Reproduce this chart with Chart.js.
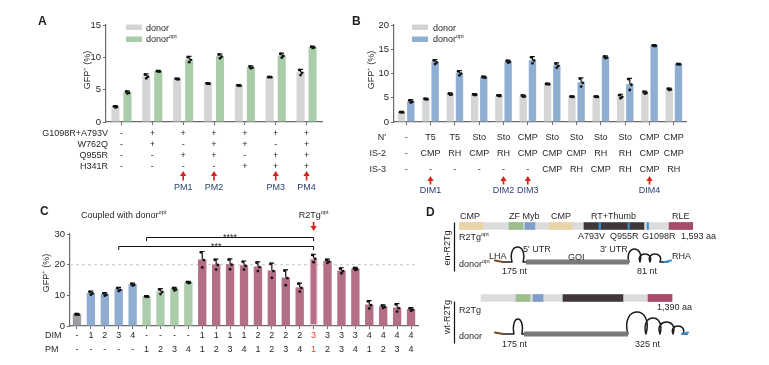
<!DOCTYPE html>
<html><head><meta charset="utf-8">
<script src="https://cdn.jsdelivr.net/npm/chart.js@4/dist/chart.umd.min.js"></script>
<style>
html,body{margin:0;padding:0;background:#fff;width:769px;height:365px;overflow:hidden;position:relative;}
canvas{position:absolute;}
</style></head><body>
<canvas id="cA" width="380" height="200" style="left:0;top:0"></canvas>
<canvas id="cB" width="429" height="200" style="left:340px;top:0"></canvas>
<canvas id="cC" width="425" height="170" style="left:0;top:195px"></canvas>
<canvas id="cD" width="349" height="170" style="left:420px;top:195px"></canvas>
<script>
// ================= DATA =================
// Panel A
const aCategories = ['WT','GA+W','PM1','PM2','GA+W+H','PM3','PM4'];
const aRowTitles = ['G1098R+A793V','W762Q','Q955R','H341R'];
const aRowGA = ['-','+','+','+','+','+','+'];
const aRowW  = ['-','+','-','+','+','-','+'];
const aRowQ  = ['-','-','+','+','-','+','+'];
const aRowH  = ['-','-','-','-','+','+','+'];
const aPmIndex = [2,3,5,6];
const aPmLabels = ['PM1','PM2','PM3','PM4'];
const aDonor    = [2.4, 7.1, 6.7, 6.0, 5.7, 7.0, 7.7];
const aDonorErr = [0.15, 0.35, 0.1, 0.1, 0.1, 0.05, 0.45];
const aOpt      = [4.6, 7.9, 9.7, 10.2, 8.5, 10.3, 11.6];
const aOptErr   = [0.2, 0.1, 0.45, 0.35, 0.2, 0.35, 0.15];
const aYMax = 15, aYStep = 5;

// Panel B
const bCategories = ['ctrl','T5/CMP','T5/RH','Sto/CMP','Sto/RH','CMP/CMP','Sto/CMP/CMP','Sto/CMP/RH','Sto/RH/CMP','Sto/RH/RH','CMP/CMP/CMP','CMP/CMP/RH'];
const bRowTitles = ["N'",'IS-2','IS-3'];
const bNterm = ['-','T5','T5','Sto','Sto','CMP','Sto','Sto','Sto','Sto','CMP','CMP'];
const bIS2   = ['-','CMP','RH','CMP','RH','CMP','CMP','CMP','RH','RH','CMP','CMP'];
const bIS3   = ['-','-','-','-','-','-','CMP','RH','CMP','RH','CMP','RH'];
const bDimIndex = [1,4,5,10];
const bDimLabels = ['DIM1','DIM2','DIM3','DIM4'];
const bDonor    = [2.1, 4.8, 5.8, 5.7, 5.5, 5.4, 7.9, 5.3, 5.3, 5.3, 6.1, 6.8];
const bDonorErr = [0.1, 0.15, 0.2, 0.15, 0.15, 0.2, 0.1, 0.1, 0.1, 0.4, 0.25, 0.2];
const bOpt      = [4.3, 12.4, 10.1, 9.3, 12.5, 12.8, 11.7, 8.2, 13.4, 7.8, 15.8, 12.0];
const bOptErr   = [0.3, 0.45, 0.5, 0.15, 0.25, 0.7, 0.5, 0.9, 0.25, 1.2, 0.15, 0.1];
const bYMax = 20, bYStep = 5;

// Panel C
const cDim = ['-','1','2','3','4','-','-','-','-','1','1','1','1','2','2','2','2','3','3','3','3','4','4','4','4'];
const cPm  = ['-','-','-','-','-','1','2','3','4','1','2','3','4','1','2','3','4','1','2','3','4','1','2','3','4'];
const cValues = [3.9, 10.8, 10.4, 12.0, 13.6, 9.7, 11.3, 12.1, 14.3, 21.7, 20.1, 20.2, 19.8, 19.4, 18.1, 15.8, 12.6, 22.1, 21.2, 18.1, 18.7, 7.0, 6.4, 6.0, 5.5];
const cErr    = [0.2, 0.6, 0.5, 0.6, 0.4, 0.2, 0.9, 0.5, 0.3, 2.6, 1.7, 1.7, 1.4, 1.5, 2.4, 2.5, 1.4, 1.3, 0.6, 0.9, 0.4, 1.3, 0.5, 1.3, 0.5];
const cHighlight = 17;
const cRefLine = 20;
const cBracketFrom = [3, 5];
const cBracketTo   = [17, 17];
const cBracketY    = [26, 29];
const cBracketText = ['***', '****'];
const cYMax = 30, cYStep = 10;

// Panel D (schematic positions in aa units)
const enLength = 1593;
const wtSpan = [150, 1450];
const domainColors = {cmp:'#e9d4a6', zf:'#9dbd8d', myb:'#7f9fcb', rt:'#3f3738', rle:'#a74a6c', mut:'#3a8fd3', bg:'#dcdcde'};
const enCmp = [[0,163],[613,769]];
const enZf = [340,436], wtZf = [388,483];
const enMyb = [449,517], wtMyb = [504,572];
const enRt = [851,1259], wtRt = [708,1116];
const enRle = [1430,1593], wtRle = [1287,1450];
const enMut = [[953,964],[1150,1160],[1280,1290]];
const enDonor = {lha:[245,300], hp:[361,436,15], goi:[456,1157], loops:[[1157,1232,13],[1232,1300,8],[1300,1368,8]], tail:1423, rha:[1402,1443]};
const wtDonor = {lha:[245,300], hp:[374,428,15], goi:[442,1150], loops:[[1150,1273,22],[1273,1368,16],[1368,1457,12],[1457,1525,8]], tail:1552, rha:[1518,1559]};

// ================= STYLE / HELPERS =================
const TXT = '#231f20', NAVY = '#2b3f6e', RED = '#d3261d', AX = '#6a6a6a';
const FAM = '"Liberation Sans", Arial, Helvetica, sans-serif';
const C_GREY = '#d5d5d7', C_GREEN = '#a9cda9', C_BLUE = '#8eafd2';
function fnt(size, bold){ return (bold ? 'bold ' : '') + size + 'px ' + FAM; }
function drawRich(ctx, it){
  const size = it.size || 9;
  const segs = typeof it.t === 'string' ? [{t: it.t}] : it.t;
  ctx.save();
  ctx.translate(it.x, it.y);
  if (it.rot) ctx.rotate(it.rot);
  let w = 0;
  segs.forEach(s => { ctx.font = fnt(s.sup ? size*0.62 : size, it.bold); w += ctx.measureText(s.t).width; });
  let x = it.align === 'right' ? -w : it.align === 'center' ? -w/2 : 0;
  ctx.textAlign = 'left'; ctx.textBaseline = 'alphabetic';
  const base = size*0.36;
  segs.forEach(s => {
    const sz = s.sup ? size*0.62 : size;
    ctx.font = fnt(sz, it.bold);
    ctx.fillStyle = s.color || it.color || TXT;
    ctx.fillText(s.t, x, s.sup ? base - size*0.42 : base);
    x += ctx.measureText(s.t).width;
  });
  ctx.restore();
}
function arrow(ctx, x, tip, tail, color){
  const dir = tail > tip ? 1 : -1;
  ctx.save(); ctx.strokeStyle = color; ctx.fillStyle = color; ctx.lineWidth = 1.7;
  ctx.beginPath(); ctx.moveTo(x, tail); ctx.lineTo(x, tip + dir*4); ctx.stroke();
  ctx.beginPath(); ctx.moveTo(x, tip); ctx.lineTo(x - 3.2, tip + dir*5); ctx.lineTo(x + 3.2, tip + dir*5); ctx.closePath(); ctx.fill();
  ctx.restore();
}
function rect(ctx, x, y, w, h, c){ ctx.fillStyle = c; ctx.fillRect(x, y, w, h); }
const GFP = [{t:'GFP'},{t:'+',sup:true},{t:' (%)'}];
const OPT = t => [{t:t},{t:'opt',sup:true}];

const errPlugin = {
  id: 'errbars',
  afterDatasetsDraw(chart){
    const ctx = chart.ctx, ys = chart.scales.y;
    chart.data.datasets.forEach((ds, di) => {
      if (!ds.errs) return;
      const meta = chart.getDatasetMeta(di);
      meta.data.forEach((bar, j) => {
        const v = ds.data[j], e = ds.errs[j];
        const x = bar.x;
        const yT = ys.getPixelForValue(v + e), yM = ys.getPixelForValue(v), yB = ys.getPixelForValue(Math.max(0, v - e));
        ctx.save(); ctx.strokeStyle = '#111'; ctx.fillStyle = '#111'; ctx.lineWidth = 1.2;
        ctx.beginPath(); ctx.moveTo(x, yM); ctx.lineTo(x, yT); ctx.moveTo(x - 2.3, yT); ctx.lineTo(x + 2.3, yT); ctx.stroke();
        [[x - 1.4, yT + 0.8], [x + 1.6, yM + 0.6], [x, yB]].forEach(p => { ctx.beginPath(); ctx.arc(p[0], p[1], 1.4, 0, Math.PI*2); ctx.fill(); });
        ctx.restore();
      });
    });
  }
};

function axes(yMax, yStep, yW, xH){
  return {
    x: { offset: true,
         grid: {display: true, drawOnChartArea: false, drawTicks: true, tickLength: 3, color: AX, offset: false},
         border: {display: true, color: AX, width: 1.3},
         ticks: {display: false},
         afterFit(s){ s.height = xH; } },
    y: { min: 0, max: yMax,
         grid: {display: true, drawOnChartArea: false, drawTicks: true, tickLength: 3, color: AX},
         border: {display: true, color: AX, width: 1.2},
         ticks: {stepSize: yStep, padding: 2, color: TXT, font: {family: FAM, size: 9.5}},
         afterFit(s){ s.width = yW; } }
  };
}
const basePlugins = {legend: {display: false}, tooltip: {enabled: false}};

// ================= PANEL A =================
new Chart(document.getElementById('cA'), {
  type: 'bar',
  data: { labels: aCategories, datasets: [
    {label: 'donor', data: aDonor, errs: aDonorErr, backgroundColor: C_GREY, categoryPercentage: 0.78, barPercentage: 0.67},
    {label: 'donor opt', data: aOpt, errs: aOptErr, backgroundColor: C_GREEN, categoryPercentage: 0.78, barPercentage: 0.67}
  ]},
  options: { responsive: false, animation: false, devicePixelRatio: 1,
    layout: {padding: {left: 0, right: 58, top: 25, bottom: 0}},
    scales: axes(aYMax, aYStep, 106, 78), plugins: basePlugins },
  plugins: [errPlugin, {
    id: 'decoA',
    afterDraw(chart){
      const ctx = chart.ctx, xs = chart.scales.x, b = chart.chartArea.bottom;
      drawRich(ctx, {t: 'A', x: 38, y: 21, size: 12, bold: true});
      rect(ctx, 126, 24.5, 16, 5.5, C_GREY); drawRich(ctx, {t: 'donor', x: 146, y: 27.3});
      rect(ctx, 126, 36.5, 16, 5.5, C_GREEN); drawRich(ctx, {t: OPT('donor'), x: 146, y: 39});
      drawRich(ctx, {t: GFP, x: 87, y: 70, rot: -Math.PI/2, align: 'center'});
      const rows = [aRowGA, aRowW, aRowQ, aRowH], dys = [11, 22, 33, 44];
      rows.forEach((r, k) => {
        drawRich(ctx, {t: aRowTitles[k], x: 108, y: b + dys[k], align: 'right'});
        r.forEach((v, i) => drawRich(ctx, {t: v, x: xs.getPixelForValue(i), y: b + dys[k], align: 'center'}));
      });
      aPmIndex.forEach((i, k) => {
        const x = xs.getPixelForValue(i);
        arrow(ctx, x, b + 49, b + 58.5, RED);
        drawRich(ctx, {t: aPmLabels[k], x: x, y: b + 65, align: 'center', color: NAVY});
      });
    }
  }]
});

// ================= PANEL B =================
new Chart(document.getElementById('cB'), {
  type: 'bar',
  data: { labels: bCategories, datasets: [
    {label: 'donor', data: bDonor, errs: bDonorErr, backgroundColor: C_GREY, categoryPercentage: 0.76, barPercentage: 0.8},
    {label: 'donor opt', data: bOpt, errs: bOptErr, backgroundColor: C_BLUE, categoryPercentage: 0.76, barPercentage: 0.8}
  ]},
  options: { responsive: false, animation: false, devicePixelRatio: 1,
    layout: {padding: {left: 0, right: 83, top: 25, bottom: 0}},
    scales: axes(bYMax, bYStep, 54, 78), plugins: basePlugins },
  plugins: [errPlugin, {
    id: 'decoB',
    afterDraw(chart){
      const ctx = chart.ctx, xs = chart.scales.x, b = chart.chartArea.bottom;
      drawRich(ctx, {t: 'B', x: 12, y: 21, size: 12, bold: true});
      rect(ctx, 72, 24.5, 16, 5.5, C_GREY); drawRich(ctx, {t: 'donor', x: 93, y: 27.3});
      rect(ctx, 72, 36.5, 16, 5.5, C_BLUE); drawRich(ctx, {t: OPT('donor'), x: 93, y: 39});
      drawRich(ctx, {t: GFP, x: 31, y: 70, rot: -Math.PI/2, align: 'center'});
      const rows = [bNterm, bIS2, bIS3], dys = [15, 31, 47];
      rows.forEach((r, k) => {
        drawRich(ctx, {t: bRowTitles[k], x: 46, y: b + dys[k], align: 'right'});
        r.forEach((v, i) => drawRich(ctx, {t: v, x: xs.getPixelForValue(i), y: b + dys[k], align: 'center'}));
      });
      bDimIndex.forEach((i, k) => {
        const x = xs.getPixelForValue(i);
        arrow(ctx, x, b + 54, b + 62.5, RED);
        drawRich(ctx, {t: bDimLabels[k], x: x, y: b + 68, align: 'center', color: NAVY});
      });
    }
  }]
});

// ================= PANEL C =================
const cColors = cDim.map((d, i) => d === '-' && cPm[i] === '-' ? '#9c9ca1' : cPm[i] === '-' ? '#8eadd1' : d === '-' ? '#abcdab' : '#b56e88');
new Chart(document.getElementById('cC'), {
  type: 'bar',
  data: { labels: cDim.map((d, i) => 'DIM' + d + '/PM' + cPm[i]), datasets: [
    {label: 'GFP+', data: cValues, errs: cErr, backgroundColor: cColors,
     borderColor: cValues.map((v, i) => i === cHighlight ? '#efc3d1' : 'rgba(0,0,0,0)'),
     borderWidth: cValues.map((v, i) => i === cHighlight ? 1.3 : 0), borderSkipped: false,
     categoryPercentage: 1, barPercentage: 0.6}
  ]},
  options: { responsive: false, animation: false, devicePixelRatio: 1,
    layout: {padding: {left: 0, right: 7, top: 39, bottom: 0}},
    scales: axes(cYMax, cYStep, 70, 39), plugins: basePlugins },
  plugins: [{
    id: 'refC',
    beforeDatasetsDraw(chart){
      const ctx = chart.ctx, ys = chart.scales.y, a = chart.chartArea;
      const y = ys.getPixelForValue(cRefLine);
      ctx.save(); ctx.strokeStyle = '#cfcfcf'; ctx.lineWidth = 1.2; ctx.setLineDash([3, 3]);
      ctx.beginPath(); ctx.moveTo(a.left, y); ctx.lineTo(a.right, y); ctx.stroke(); ctx.restore();
    }
  }, errPlugin, {
    id: 'decoC',
    afterDraw(chart){
      const ctx = chart.ctx, xs = chart.scales.x, ys = chart.scales.y, b = chart.chartArea.bottom;
      drawRich(ctx, {t: 'C', x: 40, y: 16, size: 12, bold: true});
      drawRich(ctx, {t: OPT('Coupled with donor'), x: 81, y: 20});
      drawRich(ctx, {t: GFP, x: 46, y: 78, rot: -Math.PI/2, align: 'center'});
      const rows = [cDim, cPm], titles = ['DIM', 'PM'], dys = [8.3, 22.3];
      rows.forEach((r, k) => {
        drawRich(ctx, {t: titles[k], x: 45, y: b + dys[k]});
        r.forEach((v, i) => drawRich(ctx, {t: v, x: xs.getPixelForValue(i), y: b + dys[k], align: 'center', color: i === cHighlight ? '#e8412f' : TXT}));
      });
      ctx.save(); ctx.strokeStyle = '#111'; ctx.lineWidth = 1;
      cBracketFrom.forEach((f, k) => {
        const x1 = xs.getPixelForValue(f), x2 = xs.getPixelForValue(cBracketTo[k]), y = Math.round(ys.getPixelForValue(cBracketY[k])) + 0.5;
        ctx.beginPath(); ctx.moveTo(x1, y + 3.5); ctx.lineTo(x1, y); ctx.lineTo(x2, y); ctx.lineTo(x2, y + 3.5); ctx.stroke();
        drawRich(ctx, {t: cBracketText[k], x: (x1 + x2)/2, y: y - 1.2, align: 'center', size: 9});
      });
      ctx.restore();
      const xh = xs.getPixelForValue(cHighlight);
      drawRich(ctx, {t: OPT('R2Tg'), x: xh, y: 20, align: 'center'});
      arrow(ctx, xh, 36, 27, RED);
    }
  }]
});

// ================= PANEL D =================
function seg(arr, lvl){ return arr.map(p => ({x: p, y: lvl})); }
function arch(ctx, xa, xb, y, h){ const w = xb - xa; ctx.bezierCurveTo(xa - w*0.45, y - h*1.33, xb + w*0.45, y - h*1.33, xb, y); }
function drawDonor(ctx, X, y, d){
  ctx.save(); ctx.lineCap = 'round'; ctx.lineJoin = 'round';
  ctx.strokeStyle = '#1c1c1c'; ctx.lineWidth = 1.5;
  ctx.beginPath(); ctx.moveTo(X(d.lha[1]), y); ctx.lineTo(X(d.hp[0]), y); arch(ctx, X(d.hp[0]), X(d.hp[1]), y, d.hp[2]); ctx.lineTo(X(d.goi[0]), y); ctx.stroke();
  ctx.beginPath(); ctx.moveTo(X(d.goi[1]), y);
  d.loops.forEach(l => { ctx.lineTo(X(l[0]), y); arch(ctx, X(l[0]), X(l[1]), y, l[2]); });
  ctx.lineTo(X(d.tail), y); ctx.stroke();
  ctx.strokeStyle = '#7b4a25'; ctx.lineWidth = 2.2;
  ctx.beginPath(); ctx.moveTo(X(d.lha[0]), y - 1.5); ctx.lineTo(X(d.lha[1]), y); ctx.stroke();
  ctx.strokeStyle = '#7a7a7a'; ctx.lineWidth = 5; ctx.lineCap = 'butt';
  ctx.beginPath(); ctx.moveTo(X(d.goi[0]), y); ctx.lineTo(X(d.goi[1]), y); ctx.stroke();
  ctx.strokeStyle = '#3a8fd0'; ctx.lineWidth = 2.2; ctx.lineCap = 'round';
  ctx.beginPath(); ctx.moveTo(X(d.rha[0]), y); ctx.lineTo(X(d.rha[1]), y - 1.5); ctx.stroke();
  ctx.restore();
}
const dBar = {grouped: false, barThickness: 7, borderWidth: 0};
new Chart(document.getElementById('cD'), {
  type: 'bar',
  data: { datasets: [
    Object.assign({label: 'mutations', data: seg(enMut, 0), backgroundColor: domainColors.mut}, dBar),
    Object.assign({label: 'CMP', data: seg(enCmp, 0), backgroundColor: domainColors.cmp}, dBar),
    Object.assign({label: 'ZF', data: [{x: enZf, y: 0}, {x: wtZf, y: 2}], backgroundColor: domainColors.zf}, dBar),
    Object.assign({label: 'Myb', data: [{x: enMyb, y: 0}, {x: wtMyb, y: 2}], backgroundColor: domainColors.myb}, dBar),
    Object.assign({label: 'RT+Thumb', data: [{x: enRt, y: 0}, {x: wtRt, y: 2}], backgroundColor: domainColors.rt}, dBar),
    Object.assign({label: 'RLE', data: [{x: enRle, y: 0}, {x: wtRle, y: 2}], backgroundColor: domainColors.rle}, dBar),
    Object.assign({label: 'backbone', data: [{x: [0, enLength], y: 0}, {x: wtSpan, y: 2}], backgroundColor: domainColors.bg}, dBar)
  ]},
  options: { responsive: false, animation: false, devicePixelRatio: 1, indexAxis: 'y',
    layout: {padding: {left: 39, right: 76, top: 0, bottom: 0}},
    scales: {
      x: {type: 'linear', min: 0, max: enLength, display: false, offset: false},
      y: {type: 'linear', min: -0.861, max: 3.861, reverse: true, display: false, offset: false}
    },
    plugins: basePlugins },
  plugins: [{
    id: 'decoD',
    afterDraw(chart){
      const ctx = chart.ctx, xs = chart.scales.x, ys = chart.scales.y;
      const X = u => xs.getPixelForValue(u), Y = l => ys.getPixelForValue(l);
      drawDonor(ctx, X, Y(1), enDonor);
      drawDonor(ctx, X, Y(3), wtDonor);
      ctx.save(); ctx.strokeStyle = '#111'; ctx.lineWidth = 1.2;
      ctx.beginPath(); ctx.moveTo(34.5, 27.5); ctx.lineTo(34.5, 76.5); ctx.moveTo(34.5, 106.5); ctx.lineTo(34.5, 148.5); ctx.stroke(); ctx.restore();
      const T = [
        {t: 'D', x: 6, y: 16.5, size: 12, bold: true},
        {t: 'CMP', x: 40, y: 20.7}, {t: 'ZF Myb', x: 89, y: 20.7}, {t: 'CMP', x: 131, y: 20.7},
        {t: 'RT+Thumb', x: 171, y: 20.7}, {t: 'RLE', x: 252, y: 20.7},
        {t: OPT('R2Tg'), x: 39, y: 41.5},
        {t: 'A793V', x: 158, y: 41}, {t: 'Q955R', x: 190, y: 41}, {t: 'G1098R', x: 222, y: 41}, {t: '1,593 aa', x: 261, y: 41},
        {t: 'LHA', x: 69, y: 60.7}, {t: "5' UTR", x: 103, y: 53.3}, {t: 'GOI', x: 148, y: 61.5},
        {t: "3' UTR", x: 180, y: 53.3}, {t: 'RHA', x: 252, y: 60.7},
        {t: OPT('donor'), x: 39, y: 68.5},
        {t: '175 nt', x: 82, y: 75.7}, {t: '81 nt', x: 217, y: 75.7},
        {t: 'R2Tg', x: 39, y: 115}, {t: '1,390 aa', x: 237, y: 111.7},
        {t: 'donor', x: 39, y: 141}, {t: '175 nt', x: 82, y: 148.3}, {t: '325 nt', x: 215, y: 148.3},
        {t: 'en-R2Tg', x: 26.5, y: 53, rot: -Math.PI/2, align: 'center'},
        {t: 'wt-R2Tg', x: 26.5, y: 122, rot: -Math.PI/2, align: 'center'}
      ];
      T.forEach(it => drawRich(ctx, it));
    }
  }]
});
</script>
</body></html>
